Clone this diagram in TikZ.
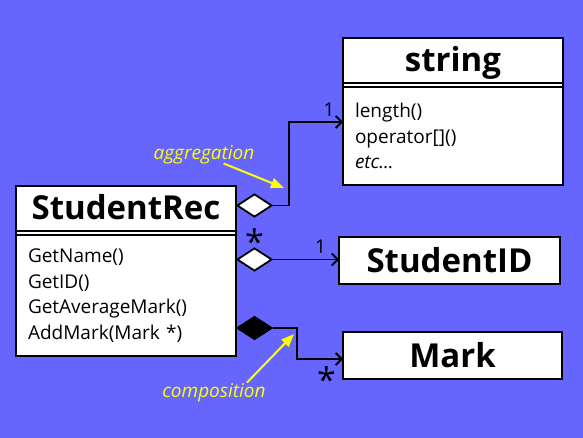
\documentclass[tikz,border=0pt]{standalone}
\usepackage{fontspec}
\setmainfont{Open Sans}
\usetikzlibrary{shapes.geometric, arrows.meta, positioning, calc}
\definecolor{slideblue}{RGB}{102,102,255}
\definecolor{notecolor}{RGB}{255,255,0}

\begin{document}
\begin{tikzpicture}[x=1pt, y=-1pt,
    classframe/.style={draw, fill=white, line width=2.8pt, outer sep=0pt, inner sep=0pt, minimum width=220pt},
    classtitle/.style={font=\bfseries\fontsize{33}{36}\selectfont, text height=27pt, text depth=4pt, inner sep=0pt, outer sep=0pt, minimum width=220pt, minimum height=45pt, anchor=north},
    classmembers/.style={font=\fontsize{19}{25.5}\selectfont, text width=196pt, align=left, inner xsep=12pt, inner ysep=0pt, outer sep=0pt},
    simplebox/.style={draw, fill=white, line width=2.8pt, font=\bfseries\fontsize{33}{36}\selectfont, text height=27pt, text depth=4pt, minimum width=220pt, minimum height=47pt, inner sep=0pt, outer sep=0pt},
    sepline/.style={line width=2pt},
    hollow/.style={diamond, draw, fill=white, line width=1.8pt, aspect=1.55, minimum width=35pt, minimum height=23pt, inner sep=0pt},
    filled/.style={hollow, fill=black},
    link/.style={line width=1.8pt, -{Straight Barb[length=6pt, width=12pt]}},
    note/.style={notecolor, line width=2pt, -{Triangle[length=13pt, width=10pt]}},
    notetext/.style={font=\itshape\fontsize{19}{20}\selectfont, text=notecolor, inner sep=1pt},
    mult/.style={font=\fontsize{19}{20}\selectfont, inner sep=1pt},
    star/.style={font=\fontsize{34}{34}\selectfont, inner sep=0pt}
]
    \path[use as bounding box, fill=slideblue] (0,0) rectangle (583,438);

    \node[classframe, minimum height=170pt] (sr) at (126,271) {};
    \node[classtitle] (srtitle) at (sr.north) {StudentRec};
    \node[classmembers, minimum height=120.5pt, below=4.5pt of srtitle] (srbody) {GetName()\\GetID()\\GetAverageMark()\\AddMark(Mark *)};
    \draw[sepline] (srtitle.south -| sr.west) -- (srtitle.south -| sr.east);
    \draw[sepline] (srbody.north -| sr.west) -- (srbody.north -| sr.east);

    \node[classframe, minimum height=147pt] (str) at (453,111.5) {};
    \node[classtitle] (strtitle) at (str.north) {string};
    \node[classmembers, minimum height=97.5pt, below=4.5pt of strtitle] (strbody) {length()\\operator[]()\\\textit{etc...}};
    \draw[sepline] (strtitle.south -| str.west) -- (strtitle.south -| str.east);
    \draw[sepline] (strbody.north -| str.west) -- (strbody.north -| str.east);

    \node[simplebox, minimum width=221pt] (sid) at (449.5,260.5) {StudentID};
    \node[simplebox, minimum width=219pt] (mark) at (452.5,355.5) {Mark};

    \node[hollow] (agg1) at (254.5,205.5) {};
    \node[hollow] (agg2) at (254.5,259.5) {};
    \node[filled] (comp) at (254.5,328) {};

    \draw[link] (agg1.east) -- ++(16,0) |- node[mult, pos=0.87, above=4pt] {1} ([yshift=-10.5pt]str.west);
    \draw[link] (agg2.east) -- node[mult, pos=0.72, above=4pt] {1} (agg2.east -| sid.west);
    \draw[link] (comp.east) -- ++(24,0) |- node[star, pos=0.82, below=7pt] {*} ([yshift=-3.5pt]mark.west);
    \node[star, above=-8pt of agg2] (agg2star) {*};

    \node[notetext] (agglabel) at (204,155) {aggregation};
    \coordinate (aggtip) at (284,188);
    \draw[note] ([xshift=-32pt,yshift=2pt]agglabel.south east) -- (aggtip);

    \node[notetext] (complabel) at (214,393) {composition};
    \coordinate (comptip) at (294,334);
    \draw[note] ([xshift=33pt]complabel.north) -- (comptip);
\end{tikzpicture}
\end{document}
